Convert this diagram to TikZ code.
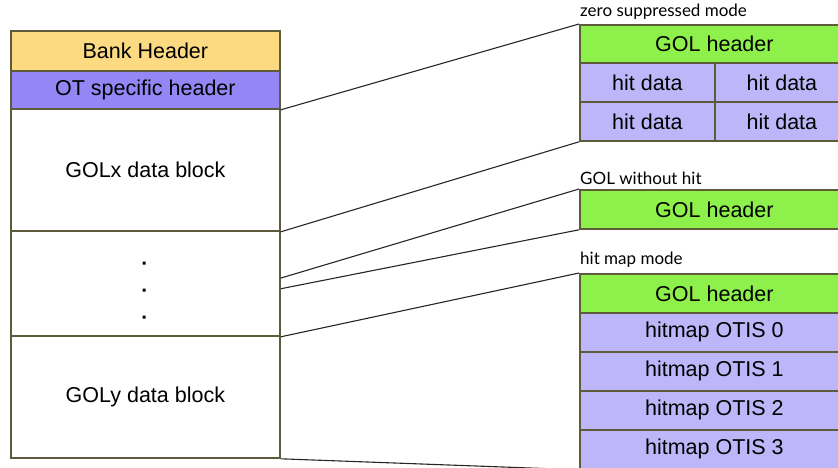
\documentclass[tikz,border=0pt]{standalone}
\usepackage{fontspec}
\setmainfont{Liberation Sans}
\newfontfamily\labelfont{Lato}
\usetikzlibrary{calc}
\definecolor{bankc}{HTML}{FCDA82}
\definecolor{otc}{HTML}{9486F4}
\definecolor{golc}{HTML}{8EF04A}
\definecolor{hitc}{HTML}{BDB6F8}
\definecolor{edgec}{HTML}{5E5A3C}
\tikzset{
  box/.style={draw=edgec, line width=1.8pt, anchor=north west, inner sep=0pt,
    font=\fontsize{21.5}{24}\selectfont, text=black},
  tag/.style={anchor=south west, inner sep=0pt, font=\labelfont\fontsize{17}{19}\selectfont},
  link/.style={line width=1.1pt, black!85}
}
\begin{document}
\begin{tikzpicture}[x=1pt,y=-1pt]
\useasboundingbox (0,0) rectangle (838,467);
\clip (0,0) rectangle (838,467);
% left column
\node[box, fill=bankc, minimum width=269pt, minimum height=40pt] (bank) at (10,30) {Bank Header};
\node[box, fill=otc, minimum width=269pt, minimum height=38pt] (ot) at (10,70) {OT specific header};
\node[box, fill=white, minimum width=269pt, minimum height=122pt] (golx) at (10,108) {GOLx data block};
\node[box, fill=white, minimum width=269pt, minimum height=105pt] (dots) at (10,230) {};
\node[box, fill=white, minimum width=269pt, minimum height=122pt] (goly) at (10,335) {GOLy data block};
\fill (142.5,261.5) rectangle ++(3,3) (142.5,288.5) rectangle ++(3,3) (142.5,315.5) rectangle ++(3,3);
% zero suppressed mode
\node[tag] (zsl) at (580,20) {zero suppressed mode};
\node[box, fill=golc, minimum width=269pt, minimum height=38pt] (zsh) at (579,24) {GOL header};
\node[box, fill=hitc, minimum width=135pt, minimum height=39pt] (h1) at (579,62) {hit data};
\node[box, fill=hitc, minimum width=134pt, minimum height=39pt] (h2) at (714,62) {hit data};
\node[box, fill=hitc, minimum width=135pt, minimum height=39pt] (h3) at (579,101) {hit data};
\node[box, fill=hitc, minimum width=134pt, minimum height=39pt] (h4) at (714,101) {hit data};
% GOL without hit
\node[tag] (nhl) at (580,185) {GOL without hit};
\node[box, fill=golc, minimum width=269pt, minimum height=39pt] (nh) at (579,189) {GOL header};
% hit map mode
\node[tag] (hml) at (580,268) {hit map mode};
\node[box, fill=golc, minimum width=269pt, minimum height=39pt] (hmh) at (579,273) {GOL header};
\node[box, fill=hitc, minimum width=269pt, minimum height=39pt] (m0) at (579,312) {hitmap OTIS 0};
\node[box, fill=hitc, minimum width=269pt, minimum height=39pt] (m1) at (579,351) {hitmap OTIS 1};
\node[box, fill=hitc, minimum width=269pt, minimum height=39pt] (m2) at (579,390) {hitmap OTIS 2};
\node[box, fill=hitc, minimum width=269pt, minimum height=39pt] (m3) at (579,429) {hitmap OTIS 3};
% connectors
\coordinate (d1) at ($(dots.north east)!0.45!(dots.south east)$);
\coordinate (d2) at ($(dots.north east)!0.55!(dots.south east)$);
\draw[link] (ot.south east) -- (zsh.north west);
\draw[link] (golx.south east) -- (h3.south west);
\draw[link] (d1) -- (nh.north west);
\draw[link] (d2) -- (nh.south west);
\draw[link] (dots.south east) -- (hmh.north west);
\draw[link] (goly.south east) -- (m3.south west);
\end{tikzpicture}
\end{document}
